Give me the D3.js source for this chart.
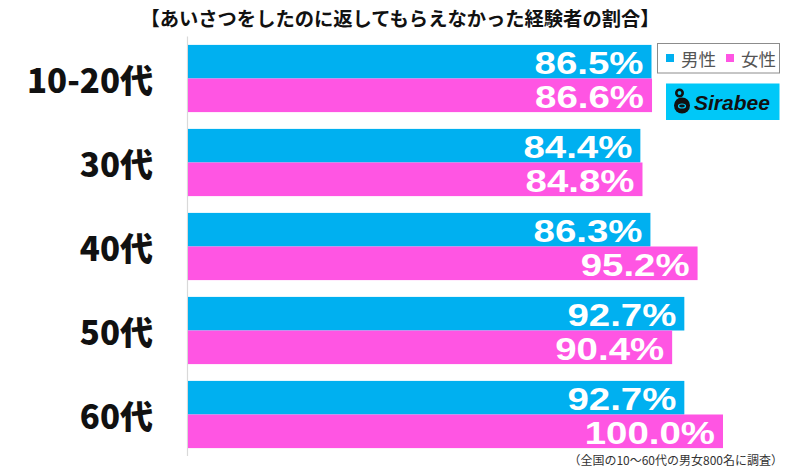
<!DOCTYPE html>
<html><head><meta charset="utf-8">
<script src="https://cdn.jsdelivr.net/npm/d3@7"></script>
<style>body{margin:0;background:#fff;}svg{display:block;}</style>
</head><body>
<svg id="c" width="800" height="466"></svg>
<script>
const title = "【あいさつをしたのに返してもらえなかった経験者の割合】";
const categories = ["10-20代", "30代", "40代", "50代", "60代"];
const seriesNames = ["男性", "女性"];
const male = [86.5, 84.4, 86.3, 92.7, 92.7];
const female = [86.6, 84.8, 95.2, 90.4, 100.0];
const footnote = "（全国の10〜60代の男女800名に調査）";

const colors = ["#00b0f0", "#ff55e3"];
const svg = d3.select("#c");
const jp = "'Noto Sans CJK JP', sans-serif";
const num = "'Liberation Sans', Arial, sans-serif";

const x = d3.scaleLinear().domain([-1, 100]).range([188, 723]);
const y = d3.scaleBand().domain(categories).range([36.5, 456.5]).paddingInner(0.2).paddingOuter(0.1);
const ys = d3.scaleBand().domain([0, 1]).range([0, y.bandwidth()]);

svg.append("text").attr("x", 400).attr("y", 18).attr("text-anchor", "middle")
  .attr("dominant-baseline", "central").attr("font-family", jp).attr("font-weight", 700)
  .attr("font-size", 19.3).attr("fill", "#111").text(title);

// axis line
svg.append("line").attr("x1", 187.5).attr("x2", 187.5).attr("y1", 36.5).attr("y2", 456)
  .attr("stroke", "#d9d9d9").attr("stroke-width", 1.2);

const rows = categories.map((c, i) => ({c, vals: [male[i], female[i]]}));
const g = svg.selectAll("g.row").data(rows).join("g").attr("class", "row")
  .attr("transform", d => `translate(0,${y(d.c)})`);

g.selectAll("rect").data(d => d.vals).join("rect")
  .attr("x", x(-1)).attr("y", (v, j) => ys(j))
  .attr("width", v => x(v) - x(-1)).attr("height", ys.bandwidth())
  .attr("fill", (v, j) => colors[j]);

g.selectAll("text.val").data(d => d.vals).join("text").attr("class", "val")
  .attr("x", v => x(v) - 8).attr("y", (v, j) => ys(j) + ys.bandwidth() / 2 + 1.5)
  .attr("text-anchor", "end").attr("dominant-baseline", "central")
  .attr("font-family", num).attr("font-weight", 700).attr("font-size", 32)
  .attr("fill", "#fff").text(v => v.toFixed(1) + "%")
  .each(function() {
    const w = this.getComputedTextLength();
    d3.select(this).attr("textLength", w * 1.2).attr("lengthAdjust", "spacingAndGlyphs");
  });

svg.selectAll("text.cat").data(categories).join("text").attr("class", "cat")
  .attr("x", 153).attr("y", d => y(d) + y.bandwidth() / 2)
  .attr("text-anchor", "end").attr("dominant-baseline", "central")
  .attr("font-family", jp).attr("font-weight", 900).attr("font-size", 33)
  .attr("fill", "#111").text(d => d);

// legend
const lg = svg.append("g");
lg.append("rect").attr("x", 657.5).attr("y", 43.5).attr("width", 122).attr("height", 29.5)
  .attr("fill", "#fff").attr("stroke", "#8c8c8c").attr("stroke-width", 1);
const lx = [666, 726];
seriesNames.forEach((n, j) => {
  lg.append("rect").attr("x", lx[j]).attr("y", 54).attr("width", 8).attr("height", 8).attr("fill", colors[j]);
  lg.append("text").attr("x", lx[j] + 15).attr("y", 58.5).attr("dominant-baseline", "central")
    .attr("font-family", jp).attr("font-size", 17.5).attr("fill", "#555").text(n);
});

// Sirabee logo
const lo = svg.append("g");
lo.append("rect").attr("x", 666).attr("y", 83.5).attr("width", 113.5).attr("height", 36.5).attr("fill", "#00c8f8");
lo.append("circle").attr("cx", 682).attr("cy", 105.5).attr("r", 8).attr("fill", "#111");
lo.append("circle").attr("cx", 679.5).attr("cy", 93).attr("r", 3.2).attr("fill", "none").attr("stroke", "#111").attr("stroke-width", 2.6);
lo.append("ellipse").attr("cx", 682).attr("cy", 106).attr("rx", 3.5).attr("ry", 2).attr("fill", "none").attr("stroke", "#00c8f8").attr("stroke-width", 1.2);
lo.append("text").attr("x", 694).attr("y", 102.5).attr("dominant-baseline", "central")
  .attr("font-family", num).attr("font-weight", 700).attr("font-style", "italic")
  .attr("font-size", 21).attr("fill", "#111").text("Sirabee");

svg.append("text").attr("x", 783).attr("y", 459).attr("text-anchor", "end")
  .attr("dominant-baseline", "central").attr("font-family", jp).attr("font-size", 12)
  .attr("fill", "#333").text(footnote);
</script>
</body></html>
